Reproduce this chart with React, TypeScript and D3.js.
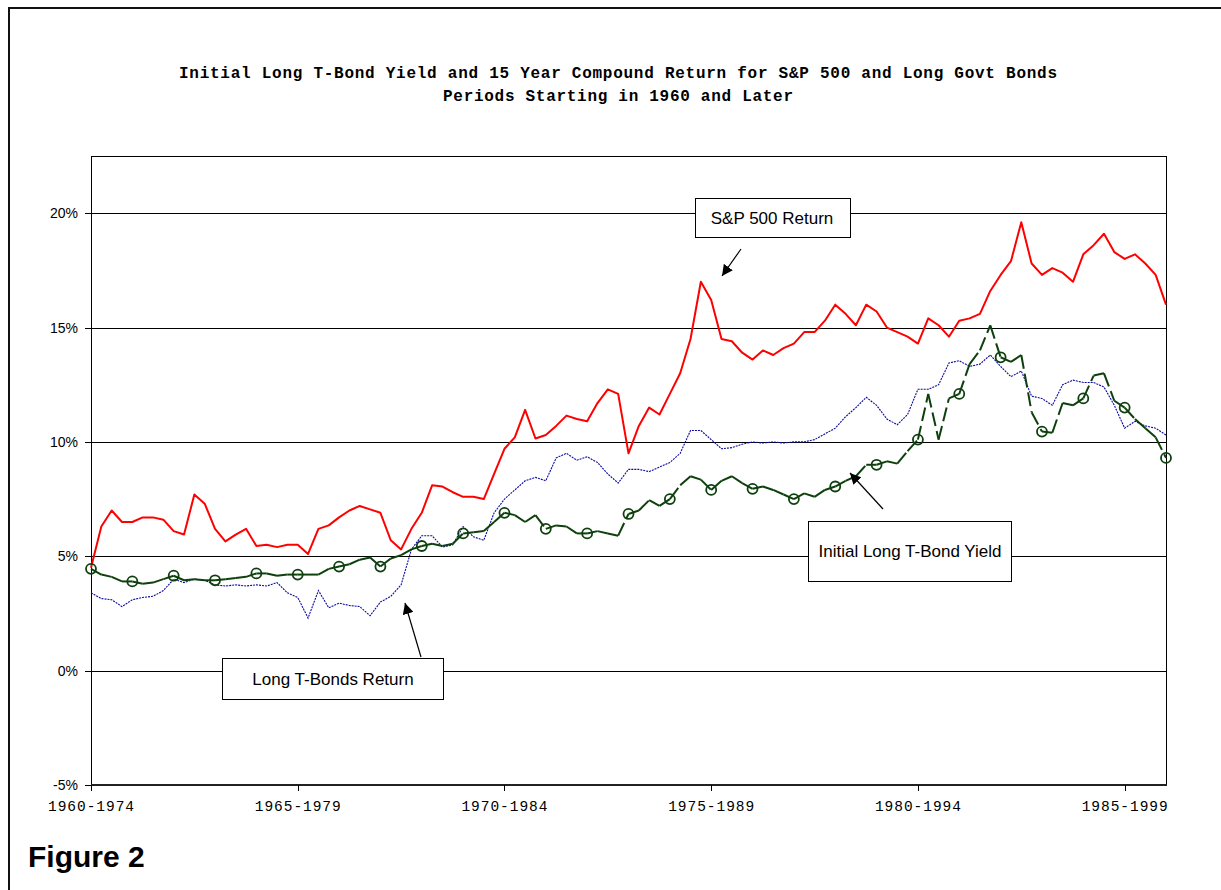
import React, { useEffect } from "react";
import * as d3 from "d3";

// quarterly points, Jan 1960 start ... Jan 1986 start (15-year windows)
const periodLabels = ["1960-1974", "1965-1979", "1970-1984", "1975-1989", "1980-1994", "1985-1999"];
const yTicks = [-5, 0, 5, 10, 15, 20];

const sp500Return = [
  4.5, 6.3, 7.0, 6.5, 6.5, 6.7, 6.7, 6.6, 6.1, 5.95, 7.7, 7.3, 6.2, 5.65, 5.95, 6.2, 5.45, 5.5, 5.4, 5.5,
  5.5, 5.1, 6.2, 6.35, 6.7, 7.0, 7.2, 7.05, 6.9, 5.7, 5.3, 6.2, 6.9, 8.1, 8.05, 7.8, 7.6, 7.6, 7.5, 8.6,
  9.7, 10.2, 11.4, 10.15, 10.3, 10.7, 11.15, 11.0, 10.9, 11.7, 12.3, 12.1, 9.5, 10.7, 11.5, 11.2, 12.1, 13.0, 14.5, 17.0,
  16.2, 14.5, 14.4, 13.9, 13.6, 14.0, 13.8, 14.1, 14.3, 14.8, 14.8, 15.3, 16.0, 15.6, 15.1, 16.0, 15.7, 15.0, 14.8, 14.6,
  14.3, 15.4, 15.1, 14.6, 15.3, 15.4, 15.6, 16.6, 17.3, 17.9, 19.6, 17.8, 17.3, 17.6, 17.4, 17.0, 18.2, 18.6, 19.1, 18.3,
  18.0, 18.2, 17.8, 17.3, 16.0,
];

const bondReturn = [
  3.4, 3.15, 3.1, 2.8, 3.1, 3.2, 3.25, 3.5, 4.0, 3.85, 4.0, 3.95, 3.75, 3.7, 3.75, 3.7, 3.75, 3.7, 3.85, 3.4,
  3.2, 2.3, 3.5, 2.75, 2.95, 2.85, 2.8, 2.4, 3.0, 3.25, 3.75, 5.3, 5.9, 5.9, 5.4, 5.5, 6.3, 5.85, 5.7, 6.9,
  7.5, 7.9, 8.3, 8.45, 8.3, 9.3, 9.5, 9.2, 9.35, 9.1, 8.6, 8.2, 8.8, 8.8, 8.7, 8.9, 9.1, 9.5, 10.5, 10.5,
  10.1, 9.7, 9.75, 9.9, 10.0, 9.95, 10.0, 9.95, 10.0, 10.0, 10.1, 10.35, 10.6, 11.1, 11.5, 11.95, 11.6, 11.0, 10.75, 11.2,
  12.3, 12.3, 12.5, 13.45, 13.55, 13.3, 13.4, 13.8, 13.3, 12.85, 13.1, 12.0, 11.9, 11.6, 12.5, 12.7, 12.6, 12.6, 12.4, 11.6,
  10.6, 10.9, 10.7, 10.6, 10.3,
];

const initialYield = [
  4.45, 4.2, 4.1, 3.9, 3.9, 3.8, 3.85, 4.0, 4.15, 3.95, 4.0, 3.95, 3.95, 4.0, 4.05, 4.1, 4.25, 4.25, 4.15, 4.2,
  4.2, 4.2, 4.2, 4.45, 4.55, 4.65, 4.85, 4.95, 4.55, 4.9, 5.05, 5.3, 5.45, 5.55, 5.45, 5.55, 6.0, 6.05, 6.1, 6.5,
  6.9, 6.8, 6.5, 6.8, 6.2, 6.35, 6.3, 6.0, 6.0, 6.1, 6.0, 5.9, 6.85, 7.0, 7.45, 7.2, 7.5, 8.1, 8.5, 8.35,
  7.9, 8.3, 8.5, 8.2, 7.95, 8.05, 7.9, 7.7, 7.5, 7.75, 7.6, 7.9, 8.05, 8.3, 8.5, 9.0, 9.0, 9.15, 9.05, 9.6,
  10.1, 12.1, 10.1, 11.9, 12.1, 13.4, 14.0, 15.1, 13.7, 13.5, 13.8, 11.3, 10.45, 10.4, 11.7, 11.6, 11.9, 12.9, 13.0, 11.8,
  11.5, 11.0, 10.6, 10.2, 9.3,
];

const W = 1221;
const H = 890;
const plot = { left: 91, right: 1166, top: 156, bottom: 785 };

export default function App() {
  useEffect(() => {
    document.body.style.margin = "0";
    document.body.style.overflow = "hidden";
  }, []);

  const n = sp500Return.length;
  const x = d3.scaleLinear().domain([0, n - 1]).range([plot.left, plot.right]);
  const y = d3.scaleLinear().domain([-5, 22.5]).range([plot.bottom, plot.top]);

  const line = d3
    .line<number>()
    .x((_, i) => x(i))
    .y(d => y(d));

  const green = "#0e400e";
  const labelTicks = periodLabels.map((l, k) => ({ label: l, idx: k * 20 }));

  // dash pattern restarts on every segment, like the source
  const greenSegs = initialYield.slice(1).map((v, i) => ({
    x1: x(i), y1: y(initialYield[i]), x2: x(i + 1), y2: y(v),
  }));

  const mono = "'Liberation Mono', 'Courier New', monospace";
  const sans = "'Liberation Sans', Arial, sans-serif";

  return (
    <svg width={W} height={H} style={{ position: "absolute", left: 0, top: 0, background: "#fff" }}>
      <defs>
        <marker id="ah" viewBox="0 0 10 10" refX="10" refY="5" markerWidth="11" markerHeight="11" markerUnits="userSpaceOnUse" orient="auto">
          <path d="M0,0 L10,5 L0,10 z" fill="#000" />
        </marker>
      </defs>
      <rect x={0} y={0} width={W} height={H} fill="#fff" />
      {/* outer frame */}
      <rect x={9} y={8} width={W + 40} height={H + 40} fill="none" stroke="#111" strokeWidth={2} />

      {/* title */}
      <g fontFamily={mono} fontWeight="bold" fontSize={16} textAnchor="middle" fill="#000">
        <text x={618} y={78} textLength={878} lengthAdjust="spacing">
          Initial Long T-Bond Yield and 15 Year Compound Return for S&amp;P 500 and Long Govt Bonds
        </text>
        <text x={618} y={101} textLength={350} lengthAdjust="spacing">
          Periods Starting in 1960 and Later
        </text>
      </g>

      {/* gridlines */}
      {yTicks.filter(t => t > -5).map(t => (
        <line key={t} x1={plot.left} x2={plot.right} y1={Math.round(y(t)) + 0.5} y2={Math.round(y(t)) + 0.5} stroke="#000" strokeWidth={1} />
      ))}
      {/* plot border */}
      <line x1={plot.left} x2={plot.right} y1={plot.top + 0.5} y2={plot.top + 0.5} stroke="#000" />
      <line x1={plot.right + 0.5} x2={plot.right + 0.5} y1={plot.top} y2={plot.bottom} stroke="#000" />

      {/* y axis */}
      <line x1={plot.left + 0.5} x2={plot.left + 0.5} y1={plot.top} y2={plot.bottom} stroke="#000" />
      {yTicks.map(t => (
        <g key={t}>
          <line x1={plot.left - 6} x2={plot.left} y1={Math.round(y(t)) + 0.5} y2={Math.round(y(t)) + 0.5} stroke="#000" />
          <text x={78} y={y(t) + 5} textAnchor="end" fontFamily={sans} fontSize={14} fill="#000">
            {t}%
          </text>
        </g>
      ))}

      {/* x axis */}
      <line x1={plot.left} x2={plot.right + 1} y1={plot.bottom} y2={plot.bottom} stroke="#222" strokeWidth={2} />
      {labelTicks.map(t => (
        <g key={t.label}>
          <line x1={Math.round(x(t.idx)) + 0.5} x2={Math.round(x(t.idx)) + 0.5} y1={plot.bottom} y2={plot.bottom + 6} stroke="#000" />
          <text x={x(t.idx)} y={811} textAnchor="middle" fontFamily={mono} fontSize={14.5} textLength={86} lengthAdjust="spacing" fill="#000">
            {t.label}
          </text>
        </g>
      ))}

      {/* series */}
      <path d={line(bondReturn) || ""} fill="none" stroke="#0a0aa0" strokeWidth={1.1} strokeDasharray="2 1" />
      <path d={line(sp500Return) || ""} fill="none" stroke="#ff0000" strokeWidth={2} strokeLinejoin="round" />
      <g stroke={green} strokeWidth={2} strokeDasharray="14 5">
        {greenSegs.map((s, i) => (
          <line key={i} x1={s.x1} y1={s.y1} x2={s.x2} y2={s.y2} />
        ))}
      </g>
      {initialYield.map((v, i) =>
        i % 4 === 0 ? <circle key={i} cx={x(i)} cy={y(v)} r={5} fill="none" stroke={green} strokeWidth={1.8} /> : null
      )}

      {/* callouts */}
      <g fontFamily={sans} fontSize={17} fill="#000" textAnchor="middle">
        <rect x={695.5} y={198.5} width={155} height={39} fill="#fff" stroke="#000" />
        <text x={772} y={224}>S&amp;P 500 Return</text>
        <line x1={741} y1={249} x2={722} y2={276} stroke="#000" strokeWidth={1.2} markerEnd="url(#ah)" />

        <rect x={808.5} y={521.5} width={203} height={60} fill="#fff" stroke="#000" />
        <text x={910} y={557}>Initial Long T-Bond Yield</text>
        <line x1={883} y1={509} x2={850} y2={473} stroke="#000" strokeWidth={1.2} markerEnd="url(#ah)" />

        <rect x={222.5} y={658.5} width={221} height={41} fill="#fff" stroke="#000" />
        <text x={333} y={685}>Long T-Bonds Return</text>
        <line x1={421} y1={657} x2={405} y2={603} stroke="#000" strokeWidth={1.2} markerEnd="url(#ah)" />
      </g>

      <text x={28} y={867} fontFamily={sans} fontWeight="bold" fontSize={30} fill="#000">
        Figure 2
      </text>
    </svg>
  );
}
